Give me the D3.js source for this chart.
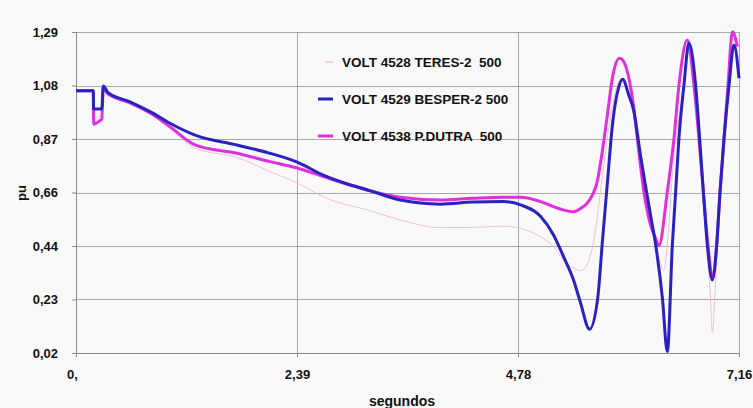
<!DOCTYPE html>
<html>
<head>
<meta charset="utf-8">
<script src="https://cdn.jsdelivr.net/npm/d3@7"></script>
<style>
  html, body { margin: 0; padding: 0; background: #f9f9f9; }
  svg { display: block; font-family: "Liberation Sans", Arial, sans-serif; }
</style>
</head>
<body>
<svg id="chart" width="753" height="408"></svg>
<script>
// Tick values and their printed labels (decimal comma)
const xTicks = [0, 2.3867, 4.7733, 7.16];
const xTickLabels = ["0,", "2,39", "4,78", "7,16"];
const yTicks = [0.02, 0.2317, 0.4433, 0.655, 0.8667, 1.0783, 1.29];
const yTickLabels = ["0,02", "0,23", "0,44", "0,66", "0,87", "1,08", "1,29"];

// Series names
const seriesNames = ["VOLT 4528 TERES-2  500", "VOLT 4529 BESPER-2 500", "VOLT 4538 P.DUTRA  500"];

// VOLT 4528 TERES-2 500 (time s, voltage pu)
const teresT = [0, 0.187, 0.19, 0.278, 0.295, 0.346, 0.584, 0.836, 1.016, 1.286, 1.737, 2.097, 2.389, 2.670, 3.211, 3.503, 3.935, 4.292, 4.616, 4.800, 5.016, 5.157, 5.265, 5.373, 5.449, 5.514, 5.589, 5.665, 5.730, 5.795, 5.881, 5.92, 6.022, 6.097, 6.151, 6.259, 6.349, 6.386, 6.457, 6.511, 6.565, 6.61, 6.692, 6.735, 6.775, 6.818, 6.85, 6.872, 6.90, 6.935, 6.98, 7.04, 7.095, 7.14];
const teresV = [1.058, 1.058, 0.95, 0.96, 1.07, 1.045, 1.005, 0.958, 0.909, 0.830, 0.794, 0.737, 0.693, 0.638, 0.579, 0.546, 0.516, 0.517, 0.522, 0.513, 0.480, 0.441, 0.388, 0.356, 0.346, 0.365, 0.46, 0.66, 0.85, 1.0, 1.10, 1.09, 0.98, 0.81, 0.67, 0.45, 0.348, 0.45, 0.80, 0.95, 1.10, 1.25, 1.08, 0.868, 0.658, 0.45, 0.25, 0.10, 0.25, 0.50, 0.80, 1.08, 1.275, 1.20];

// VOLT 4529 BESPER-2 500
const besperT = [0, 0.187, 0.19, 0.278, 0.295, 0.346, 0.584, 0.836, 1.016, 1.286, 1.737, 2.097, 2.389, 2.670, 3.211, 3.503, 3.935, 4.292, 4.616, 4.800, 5.016, 5.157, 5.265, 5.373, 5.449, 5.546, 5.632, 5.686, 5.741, 5.795, 5.860, 5.903, 5.970, 6.022, 6.097, 6.151, 6.205, 6.259, 6.332, 6.386, 6.440, 6.476, 6.511, 6.565, 6.619, 6.692, 6.735, 6.775, 6.818, 6.872, 6.919, 6.955, 6.998, 7.052, 7.106, 7.16];
const besperV = [1.058, 1.058, 0.985, 0.985, 1.076, 1.050, 1.014, 0.968, 0.929, 0.882, 0.843, 0.810, 0.775, 0.724, 0.658, 0.625, 0.609, 0.617, 0.619, 0.606, 0.561, 0.487, 0.401, 0.309, 0.218, 0.114, 0.230, 0.467, 0.704, 0.929, 1.07, 1.103, 1.04, 0.981, 0.80, 0.68, 0.565, 0.45, 0.24, 0.025, 0.447, 0.658, 0.868, 1.078, 1.245, 1.078, 0.868, 0.658, 0.447, 0.309, 0.447, 0.658, 0.868, 1.078, 1.239, 1.107];

// VOLT 4538 P.DUTRA 500
const dutraT = [0, 0.187, 0.19, 0.26, 0.278, 0.295, 0.346, 0.584, 0.836, 1.016, 1.286, 1.737, 2.097, 2.389, 2.670, 3.211, 3.503, 3.935, 4.292, 4.616, 4.800, 5.016, 5.157, 5.265, 5.373, 5.449, 5.546, 5.632, 5.686, 5.741, 5.795, 5.870, 5.903, 6.022, 6.062, 6.133, 6.205, 6.259, 6.295, 6.386, 6.457, 6.511, 6.602, 6.674, 6.728, 6.775, 6.825, 6.872, 6.919, 6.955, 6.998, 7.041, 7.089, 7.143];
const dutraV = [1.058, 1.058, 0.925, 0.94, 0.945, 1.07, 1.045, 1.01, 0.962, 0.915, 0.843, 0.810, 0.777, 0.752, 0.718, 0.658, 0.636, 0.625, 0.632, 0.636, 0.636, 0.619, 0.599, 0.586, 0.579, 0.592, 0.625, 0.704, 0.823, 0.968, 1.113, 1.186, 1.179, 0.994, 0.869, 0.658, 0.526, 0.474, 0.445, 0.658, 0.867, 1.078, 1.258, 1.078, 0.867, 0.658, 0.447, 0.322, 0.447, 0.658, 0.867, 1.078, 1.291, 1.232];

const colors = ["#f2bfd2", "#2a22c0", "#e030dc"];
const widths = [1, 3, 3];

const svg = d3.select("#chart");
const plotLeft = 76, plotRight = 739, plotTop = 32, plotBottom = 353;

const x = d3.scaleLinear().domain([0, 7.16]).range([plotLeft, plotRight]);
const y = d3.scaleLinear().domain([0.02, 1.29]).range([plotBottom, plotTop]);

// Grid lines
const grid = svg.append("g").attr("stroke", "#a8a8a8").attr("stroke-width", 1);
grid.selectAll(".hg").data(yTicks).join("line")
  .attr("x1", plotLeft).attr("x2", plotRight)
  .attr("y1", d => Math.round(y(d)) + 0.5).attr("y2", d => Math.round(y(d)) + 0.5);
grid.selectAll(".vg").data(xTicks).join("line")
  .attr("y1", plotTop).attr("y2", plotBottom)
  .attr("x1", d => Math.round(x(d)) + 0.5).attr("x2", d => Math.round(x(d)) + 0.5);

// Axes
const xAxis = d3.axisBottom(x).tickValues(xTicks)
  .tickFormat((d, i) => xTickLabels[i]).tickSize(4).tickPadding(13);
const yAxis = d3.axisLeft(y).tickValues(yTicks)
  .tickFormat((d, i) => yTickLabels[i]).tickSize(4).tickPadding(14);

const gx = svg.append("g").attr("transform", `translate(0,${plotBottom})`).call(xAxis);
const gy = svg.append("g").attr("transform", `translate(${plotLeft},0)`).call(yAxis);
[gx, gy].forEach(g => {
  g.select(".domain").attr("stroke", "#8a8a8a");
  g.selectAll(".tick line").attr("stroke", "#8a8a8a");
  g.selectAll(".tick text")
    .attr("fill", "#111").attr("font-size", 13).attr("font-weight", "bold")
    .attr("font-family", "'Liberation Sans', Arial, sans-serif");
});
gx.selectAll(".tick text").attr("dx", (d, i) => i === 0 ? -4 : 0);

// Curves
const line = d3.line().x(d => x(d[0])).y(d => y(d[1])).curve(d3.curveMonotoneX);
const seriesData = [
  d3.zip(teresT, teresV),
  d3.zip(besperT, besperV),
  d3.zip(dutraT, dutraV)
];
// pink underneath, then magenta, blue on top
[0, 2, 1].forEach(idx => {
  svg.append("path")
    .datum(seriesData[idx])
    .attr("fill", "none")
    .attr("stroke", colors[idx])
    .attr("stroke-width", widths[idx])
    .attr("stroke-linejoin", "round")
    .attr("d", line);
});

// Legend
const legend = svg.append("g").attr("transform", "translate(318,62)");
seriesNames.forEach((name, i) => {
  const g = legend.append("g").attr("transform", `translate(0,${i * 37})`);
  g.append("line").attr("x1", i === 0 ? 7 : 0).attr("x2", 15)
    .attr("y1", 0).attr("y2", 0)
    .attr("stroke", colors[i]).attr("stroke-width", i === 0 ? 1.5 : 3);
  g.append("text").attr("x", 24).attr("y", 5)
    .attr("font-size", 13.5).attr("font-weight", "bold").attr("fill", "#111")
    .attr("xml:space", "preserve")
    .style("white-space", "pre")
    .text(name);
});

// Axis titles
svg.append("text")
  .attr("x", 402).attr("y", 406)
  .attr("text-anchor", "middle")
  .attr("font-size", 14).attr("font-weight", "bold").attr("fill", "#111")
  .text("segundos");

svg.append("text")
  .attr("transform", "translate(26,193) rotate(-90)")
  .attr("text-anchor", "middle")
  .attr("font-size", 13).attr("font-weight", "bold").attr("fill", "#111")
  .text("pu");
</script>
</body>
</html>
